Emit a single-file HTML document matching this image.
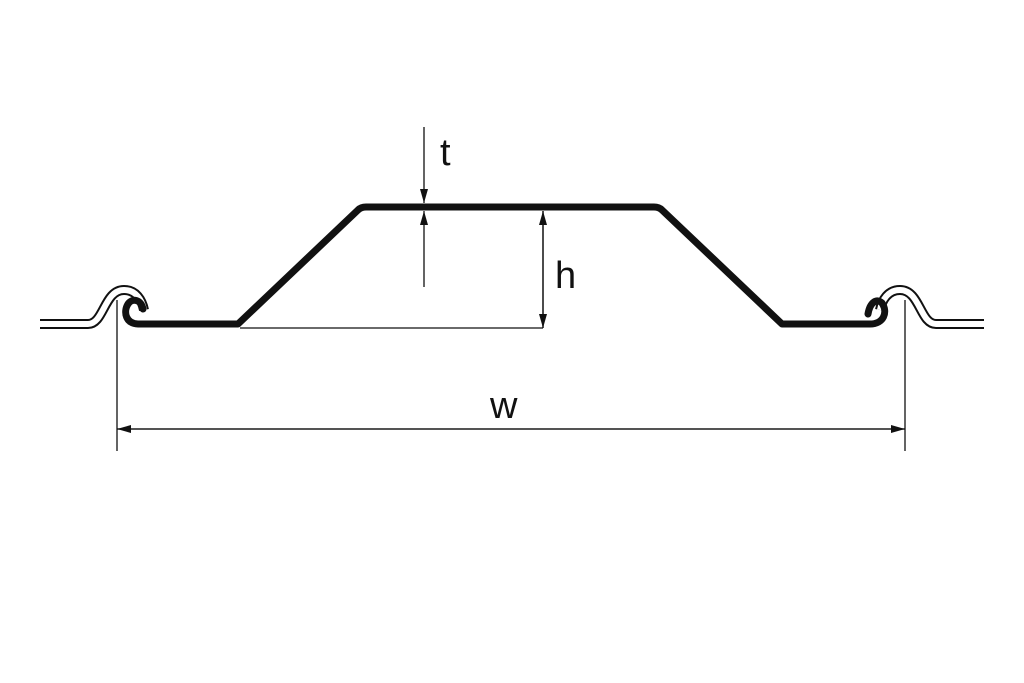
<!DOCTYPE html>
<html><head><style>html,body{margin:0;background:#fff}svg{display:block}text{font-family:"Liberation Sans",sans-serif;fill:#111}</style></head>
<body>
<svg width="1024" height="683" viewBox="0 0 1024 683">
<defs>
<marker id="a" viewBox="0 0 14 10" refX="14" refY="5" markerWidth="14" markerHeight="10" markerUnits="userSpaceOnUse" orient="auto"><path d="M0,1 L14,5 L0,9z" fill="#111"/></marker>
</defs>
<rect width="1024" height="683" fill="#fff"/>
<path d="M40,324 L88,324 C104,324 104,290 124,290 C136,290 142,300 144,310" fill="none" stroke="#111" stroke-width="10"/>
<path d="M40,324 L88,324 C104,324 104,290 124,290 C136,290 142,300 144,310" fill="none" stroke="#fff" stroke-width="6"/>
<path d="M984,324 L936,324 C920,324 920,290 900,290 C888,290 882,300 880,310" fill="none" stroke="#111" stroke-width="10"/>
<path d="M984,324 L936,324 C920,324 920,290 900,290 C888,290 882,300 880,310" fill="none" stroke="#fff" stroke-width="6"/>
<path d="M143,309 C141,299 132,298 128,304 C123,312 126,324 138,324 L238,324 L358,210 Q361,207 366,207 L654,207 Q659,207 662,210 L782,324 L870,324 C884,324 888,312 882,303 C877,298 870,302 868,314" fill="none" stroke="#111" stroke-width="7" stroke-linejoin="round" stroke-linecap="round"/>
<g stroke="#111" stroke-width="1.3" fill="none">
<line x1="424" y1="127" x2="424" y2="203" marker-end="url(#a)"/>
<line x1="424" y1="287" x2="424" y2="211" marker-end="url(#a)"/>
<line x1="543" y1="211" x2="543" y2="328" marker-end="url(#a)"/>
<line x1="543" y1="328" x2="543" y2="211" marker-end="url(#a)"/>
<line x1="240" y1="328" x2="543" y2="328"/>
<line x1="117" y1="300" x2="117" y2="451"/>
<line x1="905" y1="300" x2="905" y2="451"/>
<line x1="117" y1="429" x2="905" y2="429" marker-end="url(#a)"/>
<line x1="905" y1="429" x2="117" y2="429" marker-end="url(#a)"/>
</g>
<text x="440" y="165" font-size="38">t</text>
<text x="555" y="288" font-size="38">h</text>
<text x="490" y="418" font-size="38">w</text>
</svg>
</body></html>
